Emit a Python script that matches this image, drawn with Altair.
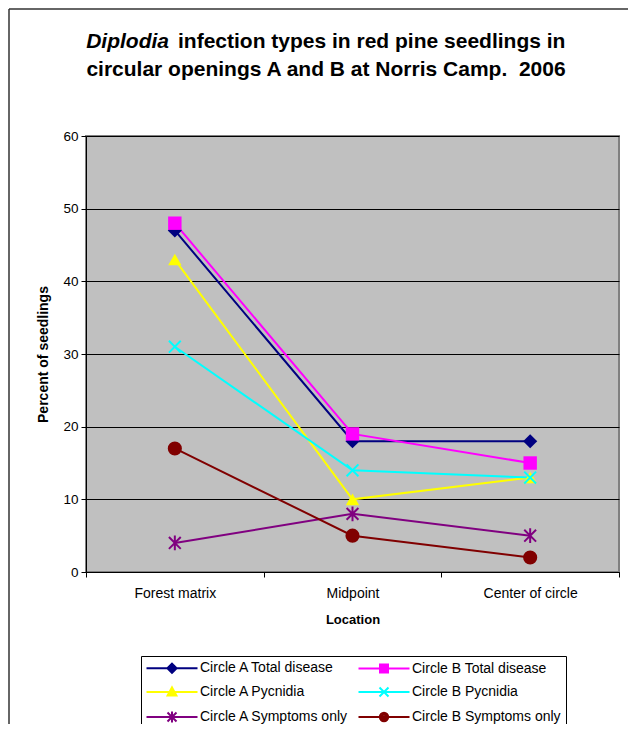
import altair as alt
import pandas as pd

FONT = "Liberation Sans, Arial, sans-serif"

locations = ["Forest matrix", "Midpoint", "Center of circle"]
series_names = [
    "Circle A Total disease",
    "Circle B Total disease",
    "Circle A Pycnidia",
    "Circle B Pycnidia",
    "Circle A Symptoms only",
    "Circle B Symptoms only",
]
a_total = [47, 18, 18]
b_total = [48, 19, 15]
a_pycnidia = [43, 10, 13]
b_pycnidia = [31, 14, 13]
a_symptoms = [4, 8, 5]
b_symptoms = [17, 5, 2]
series_values = [a_total, b_total, a_pycnidia, b_pycnidia, a_symptoms, b_symptoms]
colors = ["#000080", "#FF00FF", "#FFFF00", "#00FFFF", "#800080", "#800000"]

title_italic = "Diplodia"
title_rest = "infection types in red pine seedlings in"
title_line2 = "circular openings A and B at Norris Camp.\u00a0 2006"

rows = []
for name, vals in zip(series_names, series_values):
    for loc, v in zip(locations, vals):
        rows.append({"series": name, "location": loc, "value": v})
df = pd.DataFrame(rows)

# plot markers
X_PATH = "M-1,-1L1,1M1,-1L-1,1"
AST_PATH = "M-1,-1L1,1M1,-1L-1,1M0,-1.25L0,1.25"
marker_specs = [
    ("diamond", True, 200),
    ("square", True, 180),
    ("triangle-up", True, 180),
    (X_PATH, False, 140),
    (AST_PATH, False, 140),
    ("circle", True, 200),
]

# legend symbols: a line segment with a marker on it (units of 5px, symbol centre at 0)
c = 3.8
LINE = "M-1.3,0L8.9,0"
RINGS = [0.8, 0.45, 0.1]


def f(v):
    return f"{v:.3f}"


def diamond(r):
    return f"M{f(c)},{f(-r)}L{f(c+r)},0L{f(c)},{f(r)}L{f(c-r)},0Z"


def square(r):
    return f"M{f(c-r)},{f(-r)}L{f(c+r)},{f(-r)}L{f(c+r)},{f(r)}L{f(c-r)},{f(r)}Z"


def triangle(r):
    return f"M{f(c)},{f(-1.15*r)}L{f(c+1.1*r)},{f(0.85*r)}L{f(c-1.1*r)},{f(0.85*r)}Z"


def circle(r):
    return f"M{f(c+r)},0A{f(r)},{f(r)},0,1,1,{f(c-r)},0A{f(r)},{f(r)},0,1,1,{f(c+r)},0"


legend_paths = [
    LINE + "".join(diamond(r * 1.15) for r in RINGS),
    LINE + "".join(square(r) for r in RINGS),
    LINE + "".join(triangle(r) for r in RINGS),
    LINE + f"M{f(c-0.9)},-0.9L{f(c+0.9)},0.9M{f(c+0.9)},-0.9L{f(c-0.9)},0.9",
    LINE + f"M{f(c-0.9)},-0.9L{f(c+0.9)},0.9M{f(c+0.9)},-0.9L{f(c-0.9)},0.9M{f(c)},-1.1L{f(c)},1.1",
    LINE + "".join(circle(r * 1.05) for r in RINGS),
]

x_enc = alt.X(
    "location:N",
    sort=locations,
    scale=alt.Scale(type="band", domain=locations, paddingInner=0, paddingOuter=0),
    axis=alt.Axis(
        title="Location",
        labelAngle=0,
        labelFontSize=14,
        titleFontSize=13,
        tickBand="extent",
        tickSize=5,
        labelPadding=9,
        titlePadding=13,
        grid=False,
    ),
)
y_axis = alt.Axis(
    title="Percent of seedlings",
    values=list(range(0, 61, 10)),
    labelFontSize=13.5,
    titleFontSize=14,
    tickSize=5,
    labelPadding=3,
    titlePadding=12,
    grid=True,
    gridColor="black",
    gridWidth=1,
)
y_scale = alt.Scale(domain=[0, 60], nice=False)
y_enc = alt.Y("value:Q", scale=y_scale, axis=y_axis)
color_scale = alt.Scale(domain=series_names, range=colors)

legend_def = alt.Legend(
    title=None,
    orient="none",
    direction="horizontal",
    legendX=55,
    legendY=520,
    columns=2,
    columnPadding=5,
    rowPadding=6,
    padding=5,
    strokeColor="black",
    fillColor="white",
    labelFont=FONT,
    labelFontSize=14,
    labelColor="black",
    labelOffset=40,
    labelLimit=300,
    symbolSize=100,
    symbolStrokeWidth=2,
    symbolOpacity=1,
)

base = alt.Chart(df)

# invisible layer (its points lie outside the clipped plot) that carries the legend shapes
legend_layer = (
    base.transform_calculate(off="datum.value + 1000")
    .mark_point(filled=False, size=100, opacity=1, strokeWidth=2, clip=True)
    .encode(
        x=x_enc,
        y=alt.Y("off:Q", scale=y_scale, axis=y_axis),
        color=alt.Color("series:N", scale=color_scale, legend=legend_def),
        shape=alt.Shape("series:N", scale=alt.Scale(domain=series_names, range=legend_paths), legend=legend_def),
    )
)

lines = base.mark_line(strokeWidth=2).encode(
    x=x_enc,
    y=y_enc,
    color=alt.Color("series:N", scale=color_scale, legend=legend_def),
    order=alt.Order("location_order:Q"),
).transform_calculate(
    location_order="indexof(%s, datum.location)" % str(locations)
)

marker_layers = []
for name, col, (shape, filled, size) in zip(series_names, colors, marker_specs):
    if filled:
        mk = base.mark_point(shape=shape, filled=True, size=size, color=col, opacity=1, strokeWidth=0)
    else:
        mk = base.mark_point(shape=shape, filled=False, size=size, color=col, opacity=1, strokeWidth=2)
    marker_layers.append(
        mk.encode(x=x_enc, y=y_enc).transform_filter(alt.datum.series == name)
    )

one = pd.DataFrame({"t": [title_italic]})
t1 = alt.Chart(pd.DataFrame({"t": [title_italic]})).mark_text(
    font=FONT, fontSize=21, fontWeight="bold", fontStyle="italic", align="right", baseline="middle", color="black"
).encode(text="t:N", x=alt.value(83), y=alt.value(-94))
t2 = alt.Chart(pd.DataFrame({"t": [title_rest]})).mark_text(
    font=FONT, fontSize=21, fontWeight="bold", align="left", baseline="middle", color="black"
).encode(text="t:N", x=alt.value(92), y=alt.value(-94))
t3 = alt.Chart(pd.DataFrame({"t": [title_line2]})).mark_text(
    font=FONT, fontSize=21, fontWeight="bold", align="center", baseline="middle", color="black"
).encode(text="t:N", x=alt.value(240), y=alt.value(-66))

frame_v = alt.Chart(one).mark_rule(color="#333333", strokeWidth=1.5).encode(
    x=alt.value(-77), y=alt.value(-127), y2=alt.value(620)
)
frame_h = alt.Chart(one).mark_rule(color="#333333", strokeWidth=1.5).encode(
    x=alt.value(-77), x2=alt.value(560), y=alt.value(-127)
)

chart = (
    alt.layer(legend_layer, lines, *marker_layers, frame_v, frame_h, t1, t2, t3)
    .properties(
        width=533,
        height=436,
        autosize=alt.AutoSizeParams(type="none"),
        padding={"left": 78, "top": 128, "right": 9, "bottom": 152},
        background="white",
    )
    .configure_view(fill="#C0C0C0", stroke="#808080", strokeWidth=2)
    .configure_axis(
        labelFont=FONT,
        labelColor="black",
        titleFont=FONT,
        titleFontWeight="bold",
        titleColor="black",
        domainColor="black",
        domainWidth=1,
        tickColor="black",
        tickWidth=1,
    )
)

chart.save("out.html", embed_options={"renderer": "svg", "actions": False})
